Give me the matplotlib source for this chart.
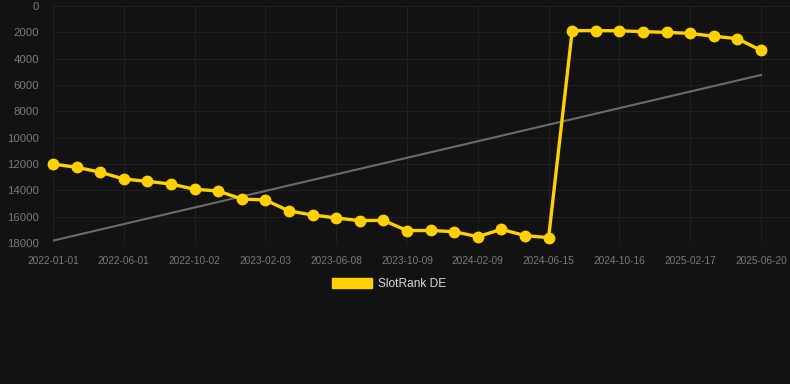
import matplotlib
matplotlib.use('Agg')
import matplotlib.pyplot as plt
from matplotlib.patches import Patch

dates = [
    '2022-01-01', '2022-02-20', '2022-04-11', '2022-06-01', '2022-07-12', '2022-08-22',
    '2022-10-02', '2022-11-13', '2022-12-24', '2023-02-03', '2023-03-16', '2023-04-27',
    '2023-06-08', '2023-07-19', '2023-08-29', '2023-10-09', '2023-11-19', '2023-12-30',
    '2024-02-09', '2024-03-21', '2024-05-04', '2024-06-15', '2024-07-26', '2024-09-05',
    '2024-10-16', '2024-11-26', '2025-01-06', '2025-02-17', '2025-03-30', '2025-05-10',
    '2025-06-20',
]
rank = [
    12000, 12250, 12620, 13140, 13320, 13520, 13920, 14050, 14660, 14730, 15570,
    15870, 16100, 16300, 16280, 17060, 17050, 17140, 17520, 16960, 17440, 17590,
    1870, 1870, 1880, 1950, 2000, 2080, 2300, 2480, 3370,
]
trend = [17820, 5240]  # start / end of the trend line
yticks = [0, 2000, 4000, 6000, 8000, 10000, 12000, 14000, 16000, 18000]

bg = '#121212'
yellow = '#FFD100'
plt.rcParams['font.family'] = ['Liberation Sans', 'DejaVu Sans']

fig = plt.figure(figsize=(7.9, 3.84), dpi=100, facecolor=bg)
ax = fig.add_axes([53 / 790, 1 - 243 / 384, 737 / 790, 237 / 384], facecolor=bg)

x = list(range(len(dates)))
ax.plot([0, len(dates) - 1], trend, color='#6b6b6b', lw=1.5, zorder=2)
ax.plot(x, rank, color=yellow, lw=2.4, marker='o', ms=7.5, zorder=3, clip_on=False)

ax.set_ylim(18000, 0)
ax.set_xlim(0, 30 + 29 / 23.6)
ax.set_yticks(yticks)
ax.set_xticks(x[::3])
ax.set_xticklabels(dates[::3])

for s in ax.spines.values():
    s.set_visible(False)
ax.grid(True, color='#1f1f1f', lw=0.8)
ax.tick_params(axis='x', colors='#7a7a7a', labelsize=7.3, length=0, pad=9)
ax.tick_params(axis='y', colors='#7a7a7a', labelsize=8.2, length=0, pad=10)

leg = fig.legend(handles=[Patch(facecolor=yellow, edgecolor=yellow)], labels=['SlotRank DE'],
                 loc='center', bbox_to_anchor=(389 / 790, 1 - 284 / 384), frameon=False,
                 handlelength=3.3, handleheight=1.0, handletextpad=0.5, fontsize=8.6)
for t in leg.get_texts():
    t.set_color('#d8d8d8')

fig.savefig('out.png', dpi=100, facecolor=bg)
